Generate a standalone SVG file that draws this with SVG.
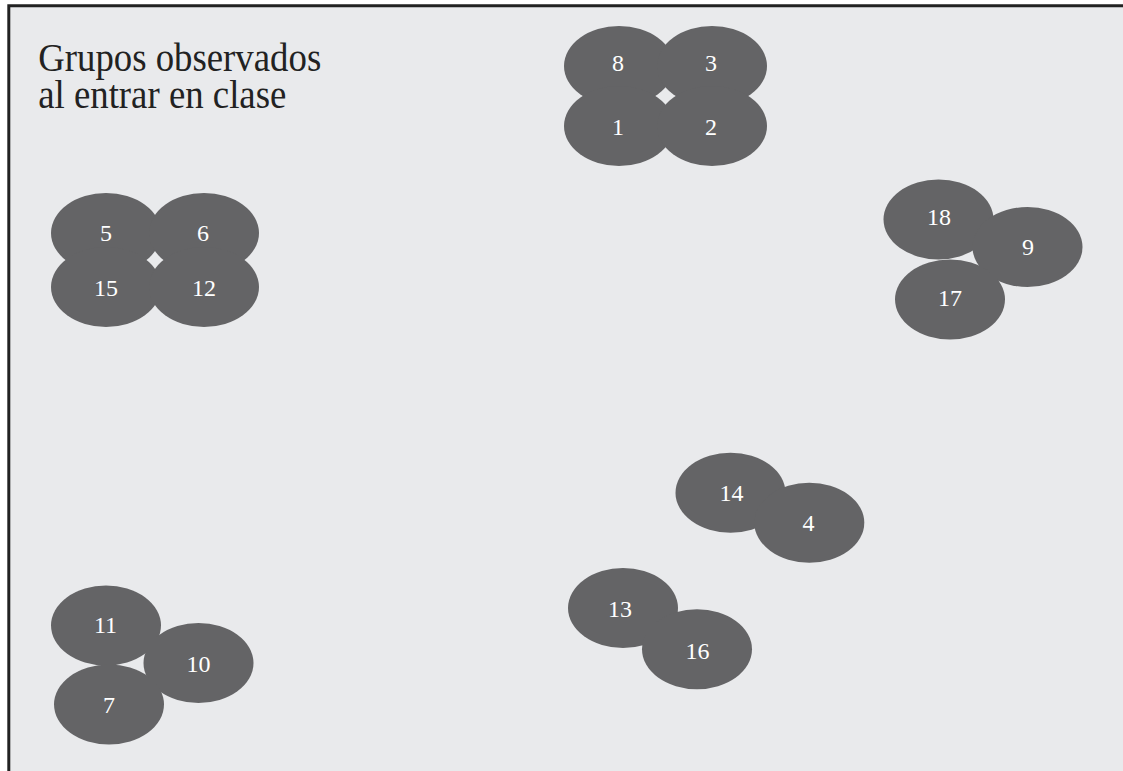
<svg xmlns="http://www.w3.org/2000/svg" width="1123" height="771" viewBox="0 0 1123 771">
<style>
.n ellipse{fill:#646466}
.n text{fill:#ffffff;font-family:"Liberation Serif","Times New Roman",serif;font-size:24px;text-anchor:middle}
.t{fill:#222222;font-family:"Liberation Serif","Times New Roman",serif;font-size:40px}
</style>
<rect x="0" y="0" width="1123" height="771" fill="#ffffff"/>
<rect x="8" y="5" width="1115" height="766" fill="#e9eaec"/>
<path d="M8.8,771 V5.8 H1123" fill="none" stroke="#222222" stroke-width="3"/>
<g id="title" transform="scale(0.92,1)">
<text class="t" x="41.5" y="71.5">Grupos observados</text>
<text class="t" x="41.5" y="108.5">al entrar en clase</text>
</g>
<g id="connectors"/>
<g id="n8" class="n"><ellipse cx="619" cy="66" rx="55" ry="40"/><text x="618" y="71">8</text></g>
<g id="n3" class="n"><ellipse cx="712" cy="66" rx="55" ry="40"/><text x="711" y="71">3</text></g>
<g id="n1" class="n"><ellipse cx="619" cy="126" rx="55" ry="40"/><text x="618" y="135">1</text></g>
<g id="n2" class="n"><ellipse cx="712" cy="126" rx="55" ry="40"/><text x="711" y="135">2</text></g>
<g id="n5" class="n"><ellipse cx="106" cy="233" rx="55" ry="40"/><text x="106" y="241">5</text></g>
<g id="n6" class="n"><ellipse cx="204" cy="233" rx="55" ry="40"/><text x="203" y="241">6</text></g>
<g id="n15" class="n"><ellipse cx="106" cy="287" rx="55" ry="40"/><text x="106" y="296">15</text></g>
<g id="n12" class="n"><ellipse cx="204" cy="287" rx="55" ry="40"/><text x="204" y="296">12</text></g>
<g id="n18" class="n"><ellipse cx="938.5" cy="219.5" rx="55" ry="40"/><text x="939" y="225">18</text></g>
<g id="n9" class="n"><ellipse cx="1027.5" cy="247" rx="55" ry="40"/><text x="1028" y="255">9</text></g>
<g id="n17" class="n"><ellipse cx="950" cy="299.5" rx="55" ry="40"/><text x="950" y="305.5">17</text></g>
<g id="n14" class="n"><ellipse cx="730.5" cy="492.7" rx="55" ry="40"/><text x="731.5" y="501">14</text></g>
<g id="n4" class="n"><ellipse cx="809.3" cy="522.7" rx="55" ry="40"/><text x="808.5" y="531">4</text></g>
<g id="n13" class="n"><ellipse cx="623" cy="608" rx="55" ry="40"/><text x="620" y="616.5">13</text></g>
<g id="n16" class="n"><ellipse cx="697" cy="649.3" rx="55" ry="40"/><text x="697.5" y="658.5">16</text></g>
<g id="n11" class="n"><ellipse cx="106" cy="625.5" rx="55" ry="40"/><text x="105.5" y="633">11</text></g>
<g id="n10" class="n"><ellipse cx="198.5" cy="663" rx="55" ry="40"/><text x="198.5" y="672">10</text></g>
<g id="n7" class="n"><ellipse cx="109" cy="704.5" rx="55" ry="40"/><text x="109" y="712.5">7</text></g>
</svg>
